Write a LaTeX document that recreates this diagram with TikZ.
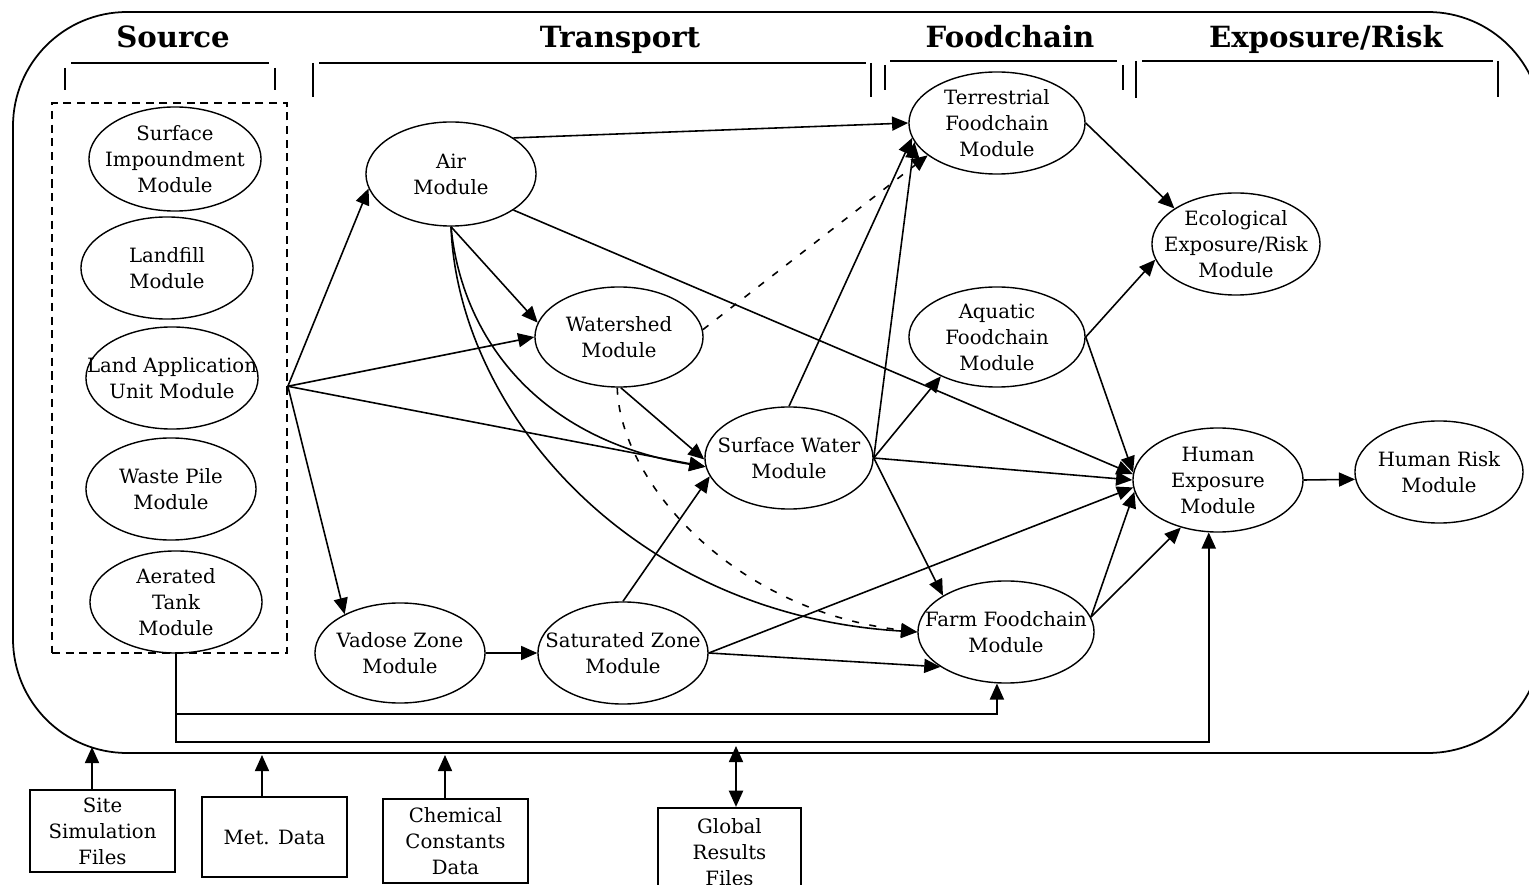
\documentclass[tikz,border=0pt]{standalone}
\usepackage{fontspec}
\setmainfont{DejaVu Serif}
\usetikzlibrary{shapes.geometric,arrows.meta}
\begin{document}
\begin{tikzpicture}[x=0.01cm,y=-0.01cm,
  line width=0.45pt,
  >={Triangle[length=4.6pt,width=4pt]},
  mod/.style={draw,ellipse,inner sep=0pt,minimum width=1.70cm,minimum height=1.02cm,line width=0.4pt},
  txt/.style={align=center,font=\fontsize{5.6}{7.4}\selectfont,inner sep=0pt},
  head/.style={font=\fontsize{8.3}{10}\selectfont\bfseries,inner sep=0pt,anchor=base},
  filebox/.style={draw,rectangle,line width=0.6pt,inner sep=0pt,minimum width=1.45cm},
  dsh/.style={dash pattern=on 2pt off 3pt},
  grp/.style={draw,rectangle,inner sep=0pt,dash pattern=on 2.3pt off 1.6pt,line width=0.45pt}
]
\useasboundingbox (0,0) rectangle (1529,885);

% outer frame
\draw[line width=0.5pt,rounded corners=1.14cm] (13,12) rectangle (1542,753);

% section headings
\node[head] (h-src) at (173,48) {Source};
\node[head] (h-tr)  at (620,48) {Transport};
\node[head] (h-fc)  at (1010,48) {Foodchain};
\node[head] (h-er)  at (1326,48) {Exposure/Risk};

% heading brackets
\draw (71,63) -- (269,63);
\draw (65,68) -- (65,90);
\draw (275,68) -- (275,90);
\draw (313,63) -- (313,97);
\draw (319,63) -- (866,63);
\draw (871,63) -- (871,97);
\draw (885,65) -- (885,90);
\draw (890,61) -- (1117,61);
\draw (1123,65) -- (1123,90);
\draw (1136,61) -- (1136,98);
\draw (1142,61) -- (1493,61);
\draw (1498,61) -- (1498,97);

% source modules
\node[grp,minimum width=2.35cm,minimum height=5.5cm] (src) at (169.5,378) {};
\node[mod,minimum width=1.72cm,minimum height=1.04cm] (si) at (175,159) {};
\node[txt] (si-t) at (si) {Surface\\Impoundment\\Module};
\node[mod,minimum width=1.72cm] (lf) at (167,268) {};
\node[txt] (lf-t) at (lf) {Landfill\\Module};
\node[mod,minimum width=1.72cm] (la) at (172,378) {};
\node[txt] (la-t) at (la) {Land Application\\Unit Module};
\node[mod] (wp) at (171,489) {};
\node[txt] (wp-t) at (wp) {Waste Pile\\Module};
\node[mod,minimum width=1.72cm] (tank) at (176,602) {};
\node[txt] (tank-t) at (tank) {Aerated\\Tank\\Module};

% transport modules
\node[mod,minimum height=1.04cm] (air) at (451,174) {};
\node[txt] (air-t) at (air) {Air\\Module};
\node[mod,minimum width=1.68cm,minimum height=1.0cm] (ws) at (619,337) {};
\node[txt] (ws-t) at (ws) {Watershed\\Module};
\node[mod,minimum width=1.68cm] (sw) at (789,458) {};
\node[txt] (sw-t) at (sw) {Surface Water\\Module};
\node[mod,minimum height=1.0cm] (vz) at (400,653) {};
\node[txt] (vz-t) at (vz) {Vadose Zone\\Module};
\node[mod] (sz) at (623,653) {};
\node[txt] (sz-t) at (sz) {Saturated Zone\\Module};

% foodchain modules
\node[mod,minimum width=1.76cm] (tf) at (997,123) {};
\node[txt] (tf-t) at (tf) {Terrestrial\\Foodchain\\Module};
\node[mod,minimum width=1.76cm,minimum height=1.0cm] (af) at (997,337) {};
\node[txt] (af-t) at (af) {Aquatic\\Foodchain\\Module};
\node[mod,minimum width=1.76cm] (ff) at (1006,632) {};
\node[txt] (ff-t) at (ff) {Farm Foodchain\\Module};

% exposure and risk modules
\node[mod,minimum width=1.68cm] (eco) at (1236,244) {};
\node[txt] (eco-t) at (eco) {Ecological\\Exposure/Risk\\Module};
\node[mod,minimum height=1.04cm] (hx) at (1218,480) {};
\node[txt] (hx-t) at (hx) {Human\\Exposure\\Module};
\node[mod,minimum width=1.68cm] (hr) at (1439,472) {};
\node[txt] (hr-t) at (hr) {Human Risk\\Module};

% data files
\node[filebox,minimum height=0.82cm] (site) at (102.5,831) {};
\node[txt] (site-t) at (site) {Site\\Simulation\\Files};
\node[filebox,minimum height=0.80cm] (met) at (274.5,837) {};
\node[txt] (met-t) at (met) {Met. Data};
\node[filebox,minimum height=0.84cm] (chem) at (455.5,841) {};
\node[txt] (chem-t) at (chem) {Chemical\\Constants\\Data};
\node[filebox,minimum width=1.43cm,minimum height=0.88cm] (gr) at (729.5,852) {};
\node[txt] (gr-t) at (gr) {Global\\Results\\Files};

% source outputs
\draw[->] (src.-4) -- (air.190);
\draw[->] (src.-4) -- (ws.west);
\draw[->] (src.-4) -- (sw.186);
\draw[->] (src.-4) -- (vz.145);

% air pathways
\draw[->] (air.30) -- (tf.west);
\draw[->] (air.-30) -- (hx.176);
\draw[->] (air.south) -- (ws.170);
\draw[->] (air.south) .. controls (462,340) and (540,440) .. (sw.186);
\draw[->] (air.south) .. controls (458,410) and (630,615) .. (ff.west);

% watershed pathways
\draw[->,dsh] (ws.-92) .. controls (620,480) and (730,610) .. (ff.west);
\draw[->] (ws.-88) -- (sw.181);
\draw[->,dsh] (ws.5) -- (tf.205);

% surface water pathways
\draw[->] (sw.north) -- (tf.190);
\draw[->] (sw.east) -- (tf.193);
\draw[->] (sw.east) -- (af.215);
\draw[->] (sw.east) -- (hx.180);
\draw[->] (sw.east) -- (ff.150);

% subsurface pathways
\draw[->] (vz.east) -- (sz.west);
\draw[->] (sz.north) -- (sw.193);
\draw[->] (sz.east) -- (hx.185);
\draw[->] (sz.east) -- (ff.208);

% foodchain to exposure
\draw[->] (tf.east) -- (eco.150);
\draw[->] (af.east) -- (eco.191);
\draw[->] (af.east) -- (hx.175);
\draw[->] (ff.10) -- (hx.188);
\draw[->] (ff.10) -- (hx.232);
\draw[->] (hx.east) -- (hr.185);

% results bus from the source modules
\coordinate (b1) at (176,714);
\coordinate (b2) at (176,742);
\draw[->,line width=0.55pt] (tank.south) -- (b2) -| (hx.-100);
\draw[->,line width=0.55pt] (b1) -| (ff.-100);

% data inputs
\coordinate (in1) at (92,747);
\coordinate (in2) at (262,755);
\coordinate (in3) at (445,755);
\coordinate (io)  at (736,746);
\draw[->,line width=0.55pt] (in1 |- site.north) -- (in1);
\draw[->,line width=0.55pt] (in2 |- met.north) -- (in2);
\draw[->,line width=0.55pt] (in3 |- chem.north) -- (in3);
\draw[<->,line width=0.55pt] (io |- gr.north) -- (io);
\end{tikzpicture}
\end{document}
